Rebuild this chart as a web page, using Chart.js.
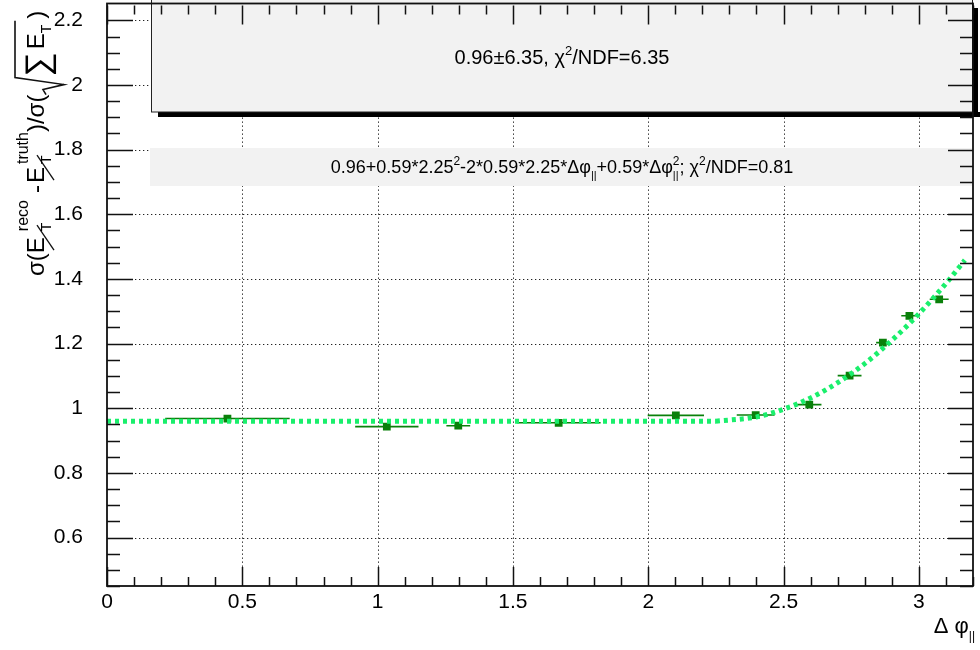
<!DOCTYPE html>
<html>
<head>
<meta charset="utf-8">
<script src="https://cdn.jsdelivr.net/npm/chart.js@4.4.1/dist/chart.umd.min.js"></script>
<style>
html, body { margin: 0; padding: 0; background: #fff; }
</style>
</head>
<body>
<canvas id="myChart" width="980" height="650"></canvas>
<script>
// tick labels
const xTicks = [0, 0.5, 1, 1.5, 2, 2.5, 3];
const yTicks = [0.6, 0.8, 1, 1.2, 1.4, 1.6, 1.8, 2, 2.2];

// measured points: bin centre, half bin width, resolution ratio
const binCenter = [0.445, 1.034, 1.298, 1.669, 2.102, 2.397, 2.595, 2.744, 2.867, 2.965, 3.075];
const binHalfWidth = [0.23, 0.117, 0.044, 0.155, 0.104, 0.07, 0.045, 0.044, 0.025, 0.03, 0.035];
const sigmaRatio = [0.968, 0.943, 0.946, 0.955, 0.978, 0.979, 1.011, 1.101, 1.203, 1.286, 1.337];

// fit curves
const flatFitX = [0, 2.25];
const flatFitY = [0.96, 0.96];
const curveFitX = [2.25, 2.4, 2.5, 2.6, 2.7, 2.8, 2.9, 3.0, 3.1, 3.17];
const curveFitY = [0.96, 0.973, 0.997, 1.032, 1.079, 1.138, 1.21, 1.292, 1.386, 1.458];

const FONT = '"Liberation Sans", Arial, Helvetica, sans-serif';
const dark = '#0a800a';
const fitGreen = '#1aef6c';

// text with sub/superscripts; parts with keep:true do not advance (stacked)
function rich(ctx, parts, x, y, draw) {
    let pend = 0;
    for (const p of parts) {
        ctx.font = p.s + 'px ' + FONT;
        const w = ctx.measureText(p.t).width;
        if (draw) {
            ctx.fillText(p.t, x, y + (p.dy || 0));
            if (p.slash) {
                ctx.save();
                ctx.lineWidth = 1.3;
                ctx.beginPath();
                ctx.moveTo(x + 3, y + 10);
                ctx.lineTo(x + w + 12, y - 7);
                ctx.stroke();
                ctx.restore();
            }
            if (p.fn) p.fn(ctx, x, y);
        }
        if (p.keep) {
            pend = Math.max(pend, w);
        } else {
            x += Math.max(pend, w) + (p.gap || 0);
            pend = 0;
        }
    }
    return x;
}

let sqrtStart = 0;
const yTitleParts = [
    {t: 'σ(', s: 24},
    {t: 'E', s: 24, slash: true, gap: 6},
    {t: 'T', s: 14, dy: 7, keep: true},
    {t: 'reco', s: 16, dy: -16, gap: 7},
    {t: '-', s: 24, gap: 2},
    {t: 'E', s: 24, slash: true, gap: 3},
    {t: 'T', s: 14, dy: 7, keep: true},
    {t: 'truth', s: 16, dy: -16},
    {t: ')/σ(', s: 24, gap: 18, fn: (ctx, x) => { sqrtStart = x + ctx.measureText(')/σ(').width; }},
    {t: '∑', s: 34, dy: 5, gap: 3},
    {t: 'E', s: 24},
    {t: 'T', s: 14, dy: 7, gap: 6, fn: (ctx, x, y) => {
        const end = x + ctx.measureText('T').width + 4;
        ctx.save();
        ctx.lineWidth = 1.6;
        ctx.beginPath();
        ctx.moveTo(sqrtStart, y + 2);
        ctx.lineTo(sqrtStart + 5, y - 1);
        ctx.lineTo(sqrtStart + 10, y + 20);
        ctx.lineTo(sqrtStart + 17, y - 29);
        ctx.lineTo(end, y - 29);
        ctx.stroke();
        ctx.restore();
    }},
    {t: ')', s: 24}
];

const box1Parts = [
    {t: '0.96±6.35, χ', s: 20},
    {t: '2', s: 13, dy: -9},
    {t: '/NDF=6.35', s: 20}
];
const box2Parts = [
    {t: '0.96+0.59*2.25', s: 18},
    {t: '2', s: 12, dy: -8},
    {t: '-2*0.59*2.25*Δφ', s: 18},
    {t: '||', s: 11, dy: 6},
    {t: '+0.59*Δφ', s: 18},
    {t: '2', s: 12, dy: -8, keep: true},
    {t: '||', s: 11, dy: 6},
    {t: '; χ', s: 18},
    {t: '2', s: 12, dy: -8},
    {t: '/NDF=0.81', s: 18}
];
const xTitleParts = [
    {t: 'Δ ', s: 22},
    {t: 'φ', s: 22},
    {t: '||', s: 12, dy: 7}
];

const rootFrame = {
    id: 'rootFrame',
    beforeDatasetsDraw(chart) {
        const ctx = chart.ctx;
        const a = chart.chartArea;
        const xs = chart.scales.x, ys = chart.scales.y;
        ctx.save();
        // dotted grid
        ctx.strokeStyle = '#222';
        ctx.lineWidth = 1;
        ctx.setLineDash([1.3, 2.7]);
        ctx.beginPath();
        xTicks.forEach(v => {
            if (v <= xs.min) return;
            const px = Math.round(xs.getPixelForValue(v)) + 0.5;
            ctx.moveTo(px, a.top); ctx.lineTo(px, a.bottom);
        });
        yTicks.forEach(v => {
            const py = Math.round(ys.getPixelForValue(v)) + 0.5;
            ctx.moveTo(a.left, py); ctx.lineTo(a.right, py);
        });
        ctx.stroke();
        ctx.setLineDash([]);
        // boxes (drawn over the grid)
        const bx = a.left + 44, bw = a.right - bx;
        ctx.fillStyle = '#000';
        ctx.fillRect(bx + 7, 112, bw, 5);
        ctx.fillRect(a.right, 8, 5, 109);
        ctx.fillStyle = '#f2f2f2';
        ctx.fillRect(bx, -2, bw, 114);
        ctx.strokeStyle = '#222';
        ctx.lineWidth = 1;
        ctx.strokeRect(bx + 0.5, -2, bw - 1, 114);
        ctx.fillRect(bx - 1, 148, bw, 38);
        ctx.fillStyle = '#000';
        ctx.textBaseline = 'alphabetic';
        let tw = rich(ctx, box1Parts, 0, 0, false);
        rich(ctx, box1Parts, bx + bw / 2 - tw / 2, 64, true);
        tw = rich(ctx, box2Parts, 0, 0, false);
        rich(ctx, box2Parts, bx + bw / 2 - tw / 2, 173, true);
        // x error bars
        ctx.strokeStyle = dark;
        ctx.lineWidth = 1.6;
        ctx.beginPath();
        binCenter.forEach((c, i) => {
            const py = ys.getPixelForValue(sigmaRatio[i]);
            ctx.moveTo(xs.getPixelForValue(c - binHalfWidth[i]), py);
            ctx.lineTo(xs.getPixelForValue(c + binHalfWidth[i]), py);
        });
        ctx.stroke();
        ctx.restore();
    },
    afterDatasetsDraw(chart) {
        const ctx = chart.ctx;
        const a = chart.chartArea;
        const xs = chart.scales.x, ys = chart.scales.y;
        ctx.save();
        ctx.strokeStyle = '#111';
        ctx.lineWidth = 1.5;
        ctx.beginPath();
        // x ticks bottom and top
        for (let k = 0; k <= 32; k++) {
            const v = k / 10;
            const px = Math.round(xs.getPixelForValue(v)) + 0.5;
            const len = (k % 5 === 0) ? 19 : 9;
            ctx.moveTo(px, a.bottom); ctx.lineTo(px, a.bottom - len);
            ctx.moveTo(px, a.top); ctx.lineTo(px, a.top + len);
        }
        // y ticks left and right
        for (let k = 9; k <= 44; k++) {
            const v = k / 20;
            const py = Math.round(ys.getPixelForValue(v)) + 0.5;
            const major = (k % 4 === 0);
            ctx.moveTo(a.left, py); ctx.lineTo(a.left + (major ? 26 : 13), py);
            ctx.moveTo(a.right, py); ctx.lineTo(a.right - (major ? 25 : 13), py);
        }
        ctx.stroke();
        ctx.lineWidth = 1.8;
        ctx.strokeRect(a.left, a.top - 2, a.right - a.left, a.bottom - a.top + 2);
        // axis titles
        ctx.fillStyle = '#000';
        ctx.textBaseline = 'alphabetic';
        const xw = rich(ctx, xTitleParts, 0, 0, false);
        rich(ctx, xTitleParts, 975 - xw, 633, true);
        ctx.translate(44, 276);
        ctx.rotate(-Math.PI / 2);
        rich(ctx, yTitleParts, 0, 0, true);
        ctx.restore();
    }
};

const ctx = document.getElementById('myChart');

new Chart(ctx, {
    type: 'scatter',
    data: {
        datasets: [{
            label: 'flat fit',
            data: flatFitX.map((x, i) => ({x: x, y: flatFitY[i]})),
            showLine: true,
            borderColor: fitGreen,
            borderWidth: 5,
            borderDash: [4, 4],
            pointRadius: 0,
            order: 0
        }, {
            label: 'quadratic fit',
            data: curveFitX.map((x, i) => ({x: x, y: curveFitY[i]})),
            showLine: true,
            borderColor: fitGreen,
            borderWidth: 5,
            borderDash: [4, 4],
            cubicInterpolationMode: 'monotone',
            pointRadius: 0,
            order: 0
        }, {
            label: 'data',
            data: binCenter.map((x, i) => ({x: x, y: sigmaRatio[i]})),
            pointStyle: 'rect',
            pointRadius: 5.5,
            backgroundColor: dark,
            borderColor: dark,
            borderWidth: 0,
            order: 1
        }]
    },
    options: {
        responsive: false,
        animation: false,
        devicePixelRatio: 1,
        layout: { padding: { top: 0, right: 7, left: 0, bottom: 0 } },
        plugins: { legend: { display: false }, tooltip: { enabled: false } },
        scales: {
            x: {
                type: 'linear',
                min: 0,
                max: 3.2,
                afterBuildTicks: s => { s.ticks = xTicks.map(v => ({value: v})); },
                afterFit: s => { s.height = 64; s.paddingLeft = 0; s.paddingRight = 0; },
                grid: { display: false, drawTicks: false },
                border: { display: false },
                ticks: {
                    padding: 4,
                    color: '#000',
                    font: { family: FONT, size: 21 },
                    maxRotation: 0,
                    callback: v => String(+v.toFixed(2))
                }
            },
            y: {
                type: 'linear',
                min: 0.45,
                max: 2.246,
                afterBuildTicks: s => { s.ticks = yTicks.map(v => ({value: v})); },
                afterFit: s => { s.width = 107; s.paddingTop = 0; s.paddingBottom = 0; },
                grid: { display: false, drawTicks: false },
                border: { display: false },
                ticks: {
                    padding: 24,
                    color: '#000',
                    font: { family: FONT, size: 21 },
                    callback: v => String(+v.toFixed(2))
                }
            }
        }
    },
    plugins: [rootFrame]
});
</script>
</body>
</html>
